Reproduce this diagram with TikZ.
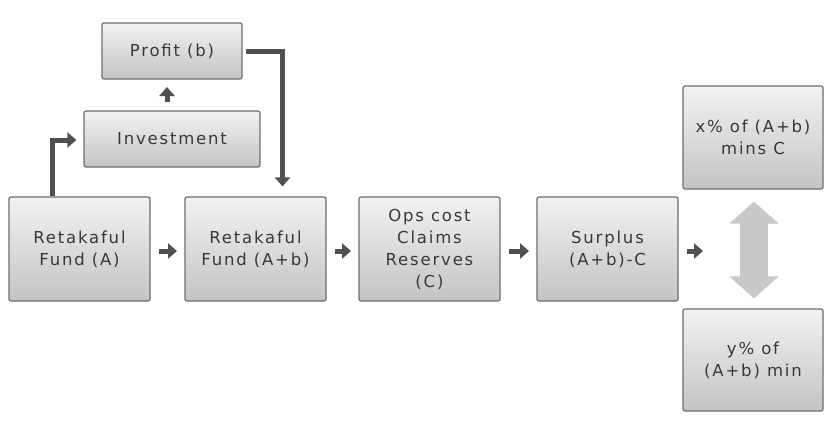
\documentclass[tikz,border=0pt]{standalone}
\usepackage{fontspec}
\usetikzlibrary{arrows.meta}
\newfontfamily\boxfont{DejaVu Sans}[LetterSpace=11]

\definecolor{boxedge}{HTML}{6E6E6E}
\definecolor{boxlight}{HTML}{F2F2F2}
\definecolor{boxdark}{HTML}{C4C4C4}
\definecolor{arrowgray}{HTML}{505050}
\definecolor{bigarrow}{HTML}{C8C8C8}
\definecolor{labelgray}{HTML}{383838}

\tikzset{
  box/.style={draw=boxedge, line width=1.2pt, rounded corners=2pt,
    top color=boxlight, bottom color=boxdark, inner sep=0pt, align=center,
    text=labelgray, font=\boxfont\fontsize{16.5}{22}\selectfont},
  mainbox/.style={box, minimum width=141pt, minimum height=104pt},
  sidebox/.style={box, minimum width=140pt, minimum height=103pt},
  flow/.style={draw=arrowgray, line width=5pt, -{Triangle[width=15pt,length=9pt]}},
  swap/.style={draw=bigarrow, line width=28pt,
    {Triangle[width=48pt,length=22pt]}-{Triangle[width=48pt,length=22pt]}},
}

\begin{document}
\begin{tikzpicture}[x=1pt, y=-1pt]
  \fill[white] (0,0) rectangle (829,421);
  \useasboundingbox (0,0) rectangle (829,421);

  % upper branch
  \node[box, minimum width=140pt, minimum height=56pt] (prof) at (172,51) {Profit (b)};
  \node[box, minimum width=176pt, minimum height=56pt] (inv) at (172,139) {Investment};

  % main row
  \node[mainbox] (fa)  at (79.5,249)  {Retakaful\\Fund (A)};
  \node[mainbox] (fab) at (255.5,249) {Retakaful\\Fund (A+b)};
  \node[mainbox] (ops) at (429.5,249) {Ops cost\\Claims\\Reserves\\(C)};
  \node[mainbox] (sur) at (607.5,249) {Surplus\\(A+b)-C};

  % split of the surplus
  \node[sidebox] (xs) at (753,137.5) {x\% of (A+b)\\mins C};
  \node[sidebox, minimum height=102pt] (ys) at (753,360) {y\% of\\(A+b) min};

  \coordinate (surout) at (703,251);

  % connectors
  \draw[flow, shorten >=7pt] ([xshift=-27.5pt]fa.north) |- ([yshift=-1pt]inv.west);
  \draw[flow, shorten <=8.4pt, shorten >=7.4pt] ([xshift=-5pt]inv.north) -- ([xshift=-5pt]prof.south);
  \draw[flow, shorten <=3pt, shorten >=10pt] (prof.east) -| ([xshift=27pt]fab.north);

  \draw[flow, shorten <=8.4pt, shorten >=7.4pt] ([yshift=-2pt]fa.east) -- ([yshift=-2pt]fab.west);
  \draw[flow, shorten <=8.4pt, shorten >=7.4pt] ([yshift=-2pt]fab.east) -- ([yshift=-2pt]ops.west);
  \draw[flow, shorten <=8.4pt, shorten >=7.4pt] ([yshift=-2pt]ops.east) -- ([yshift=-2pt]sur.west);
  \draw[flow, shorten <=8pt] ([yshift=-2pt]sur.east) -- (surout);

  \draw[swap, shorten <=12pt, shorten >=10pt] ([xshift=1pt]xs.south) -- ([xshift=1pt]ys.north);
\end{tikzpicture}
\end{document}
